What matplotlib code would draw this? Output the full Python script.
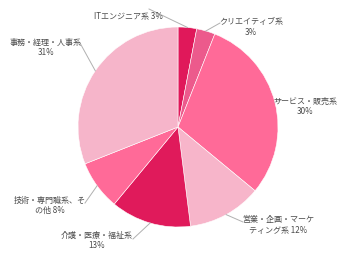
import matplotlib
matplotlib.use("Agg")
import matplotlib.pyplot as plt
import numpy as np

plt.rcParams['font.family'] = ['Noto Sans CJK JP', 'DejaVu Sans']

categories = ["ITエンジニア系", "クリエイティブ系", "サービス・販売系", "営業・企画・マーケティング系",
              "介護・医療・福祉系", "技術・専門職系、その他", "事務・経理・人事系"]
values = [3, 3, 30, 12, 13, 8, 31]
label_texts = ["ITエンジニア系 3%", "クリエイティブ系\n3%", "サービス・販売系\n30%",
               "営業・企画・マーケ\nティング系 12%", "介護・医療・福祉系\n13%",
               "技術・専門職系、そ\nの他 8%", "事務・経理・人事系\n31%"]
colors = ["#e0185a", "#ec5a8c", "#ff6a98", "#f7b5ca", "#e01a5b", "#ff6a98", "#f6b5ca"]

W, H = 358, 254
fig = plt.figure(figsize=(W / 100, H / 100), dpi=100)
cx, cy, R = 178, 127, 100
ax = fig.add_axes([(cx - R) / W, (H - cy - R) / H, 2 * R / W, 2 * R / H])
wedges, _ = ax.pie(values, colors=colors, startangle=90, counterclock=False,
                   radius=1.0, wedgeprops=dict(edgecolor="white", linewidth=0.4))
ax.set_xlim(-1, 1)
ax.set_ylim(-1, 1)
ax.set_aspect("equal")
ax.axis("off")

def px2fig(px, py):
    return px / W, 1 - py / H

# label centres and leader ends (pixels)
label_pos = [(128, 16), (251, 27), (305, 106), (278, 225), (97, 240), (50, 205), (46, 47)]
line_end = [(149, 9), (220, 23), (281, 100), (243, 222), (133, 239), (85, 203), (80, 43)]

for w, txt, lp, le in zip(wedges, label_texts, label_pos, line_end):
    ang = np.deg2rad((w.theta1 + w.theta2) / 2)
    sx, sy = cx + R * np.cos(ang), cy - R * np.sin(ang)
    x0, y0 = px2fig(sx, sy)
    x1, y1 = px2fig(*le)
    fig.add_artist(plt.Line2D([x0, x1], [y0, y1], color="#b0b0b0", linewidth=0.7,
                              transform=fig.transFigure))
    fx, fy = px2fig(*lp)
    fig.text(fx, fy, txt, ha="center", va="center", fontsize=5.8, color="#4a4a4a",
             linespacing=1.15)

fig.savefig("out.png", dpi=100)
